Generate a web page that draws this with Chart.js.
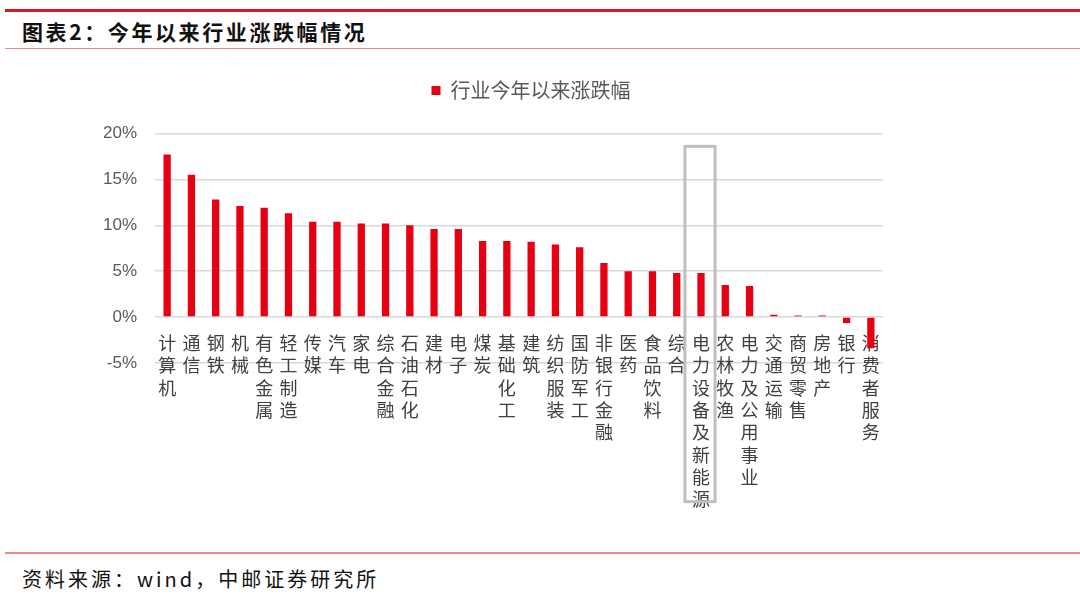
<!DOCTYPE html>
<html>
<head>
<meta charset="utf-8">
<script src="https://cdn.jsdelivr.net/npm/chart.js@4/dist/chart.umd.min.js"></script>
<style>
  html, body { margin: 0; padding: 0; background: #fff; }
  body { width: 1080px; height: 601px; position: relative; overflow: hidden; font-family: "Noto Sans CJK SC", sans-serif; }
  #topline { position: absolute; left: 5px; top: 9px; width: 1075px; height: 3px; background: #d7191f; }
  #title { position: absolute; left: 22px; top: 16px; font-size: 21px; font-weight: bold; color: #111; letter-spacing: 2.6px; line-height: 30px; }
  #titleline { position: absolute; left: 5px; top: 48px; width: 1075px; height: 1px; background: #e88a8c; }
  #footline { position: absolute; left: 5px; top: 552px; width: 1075px; height: 2px; background: #e88a8c; }
  #foot { position: absolute; left: 22px; top: 564px; font-size: 20px; color: #111; letter-spacing: 3px; line-height: 30px; }
  #wrap { position: absolute; left: 0; top: 34px; width: 1080px; height: 516px; }
</style>
</head>
<body>
<div id="topline"></div>
<div id="title">图表2：今年以来行业涨跌幅情况</div>
<div id="titleline"></div>
<div id="wrap"><canvas id="c"></canvas></div>
<div id="footline"></div>
<div id="foot">资料来源：wind，中邮证券研究所</div>
<script>
const categories = ["计算机","通信","钢铁","机械","有色金属","轻工制造","传媒","汽车","家电","综合金融","石油石化","建材","电子","煤炭","基础化工","建筑","纺织服装","国防军工","非银行金融","医药","食品饮料","综合","电力设备及新能源","农林牧渔","电力及公用事业","交通运输","商贸零售","房地产","银行","消费者服务"];
const seriesName = "行业今年以来涨跌幅";
const values = [17.7,15.5,12.8,12.1,11.9,11.3,10.4,10.4,10.2,10.2,10.0,9.6,9.6,8.3,8.3,8.2,7.9,7.6,5.9,5.0,5.0,4.8,4.8,3.5,3.4,0.25,0.18,0.18,-0.65,-3.4];
const yTicks = [-5,0,5,10,15,20];
const highlightCategory = "电力设备及新能源";

const highlightBox = {
  id: 'highlightBox',
  afterDraw(chart) {
    const idx = categories.indexOf(highlightCategory);
    if (idx < 0) return;
    const xs = chart.scales.x, ys = chart.scales.y;
    const ctx = chart.ctx;
    const cx = xs.getPixelForValue(idx) - 1;
    const half = xs.width / categories.length * 0.62;
    const top = ys.getPixelForValue(18.6);
    const fs = xs.options.ticks.font.size, lh = xs.options.ticks.font.lineHeight;
    const bottom = ys.getPixelForValue(0) + xs.options.ticks.padding + highlightCategory.length * fs * lh - 1;
    ctx.save();
    ctx.strokeStyle = '#bfbfbf';
    ctx.lineWidth = 3;
    ctx.strokeRect(cx - half, top, half * 2, bottom - top);
    ctx.restore();
  }
};

new Chart(document.getElementById('c'), {
  type: 'bar',
  data: {
    labels: categories,
    datasets: [{
      label: seriesName,
      data: values,
      backgroundColor: '#e60012',
      borderWidth: 0,
      barPercentage: 0.3,
      categoryPercentage: 1.0
    }]
  },
  options: {
    responsive: true,
    maintainAspectRatio: false,
    animation: false,
    layout: { padding: { left: 0, right: 18, top: 0, bottom: 187 } },
    plugins: {
      legend: {
        display: true,
        position: 'top',
        labels: {
          boxWidth: 9, boxHeight: 9, padding: 46.5,
          color: '#595959',
          font: { family: '"Noto Sans CJK SC", sans-serif', size: 20 }
        }
      },
      tooltip: { enabled: false }
    },
    scales: {
      x: {
        position: { y: 0 },
        grid: { display: false },
        border: { display: false },
        ticks: {
          autoSkip: false, maxRotation: 0, minRotation: 0,
          padding: 7,
          color: '#404040',
          font: { family: '"Noto Sans CJK SC", sans-serif', size: 18, lineHeight: 1.24 },
          callback: function(v, i) { return categories[i].split(''); }
        }
      },
      xSpacer: {
        type: 'category',
        position: 'top',
        grid: { display: false },
        border: { display: false },
        ticks: { display: false },
        afterFit: function(scale) { scale.height = 23; }
      },
      y: {
        min: -5, max: 20,
        afterBuildTicks: function(scale) { scale.ticks = yTicks.map(v => ({ value: v })); },
        afterFit: function(scale) { scale.width = 155; },
        grid: { color: '#d9d9d9', lineWidth: 1.5, drawTicks: false },
        border: { display: false },
        ticks: {
          padding: 18,
          color: '#595959',
          font: { family: '"Liberation Sans", Arial, sans-serif', size: 17 },
          callback: function(v) { return v + '%'; }
        }
      },
      ySpacer: {
        type: 'linear',
        position: 'right',
        grid: { display: false },
        border: { display: false },
        ticks: { display: false },
        afterFit: function(scale) { scale.width = 179; }
      }
    }
  },
  plugins: [highlightBox]
});
</script>
</body>
</html>
